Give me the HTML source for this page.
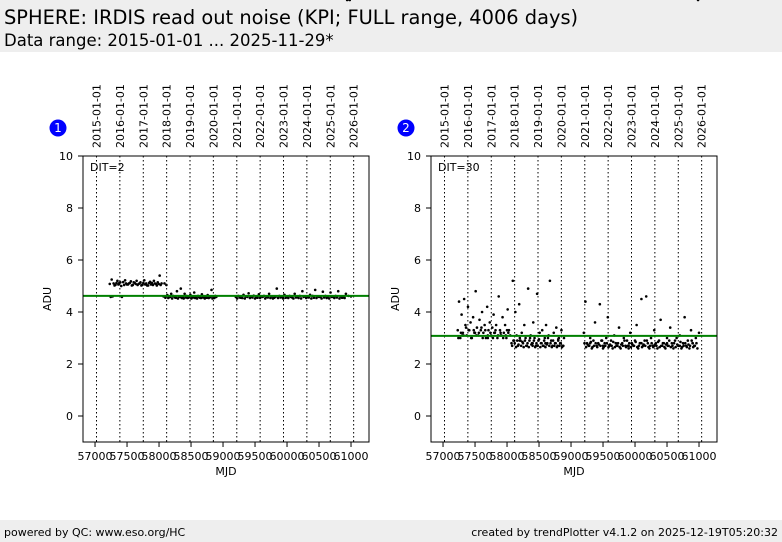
<!DOCTYPE html>
<html><head><meta charset="utf-8">
<style>
body{margin:0;width:782px;height:542px;overflow:hidden;background:#fff;font-family:"DejaVu Sans","Liberation Sans",sans-serif}
#hdr{position:absolute;left:0;top:0;width:782px;height:52px;background:#eeeeee}
#t1{position:absolute;left:4px;top:6px;font-size:19.4px;color:#000}
#t2{position:absolute;left:4px;top:31px;font-size:16.5px;color:#000}
#ftr{position:absolute;left:0;top:520px;width:782px;height:22px;background:#eeeeee;font-size:11px}
#fl{position:absolute;left:4px;top:6px}
#fr{position:absolute;right:4px;top:6px}
svg{position:absolute;left:0;top:0;font-family:"DejaVu Sans","Liberation Sans",sans-serif}
</style></head><body>
<div id="hdr">
<div id="t1">SPHERE: IRDIS read out noise (KPI; FULL range, 4006 days)</div>
<div id="t2">Data range: 2015-01-01 ... 2025-11-29*</div>
</div>
<svg id="chart" width="782" height="542"></svg>
<div id="ftr">
<span id="fl">powered by QC: www.eso.org/HC</span>
<span id="fr">created by trendPlotter v4.1.2 on 2025-12-19T05:20:32</span>
</div>
<script>
const xTicks=[57000,57500,58000,58500,59000,59500,60000,60500,61000];
const yTicks=[0,2,4,6,8,10];
const dateLabels=["2015-01-01","2016-01-01","2017-01-01","2018-01-01","2019-01-01","2020-01-01","2021-01-01","2022-01-01","2023-01-01","2024-01-01","2025-01-01","2026-01-01"];
const dateMjd=[57023,57388,57754,58119,58484,58849,59215,59580,59945,60310,60676,61041];
const refLine1=4.62;
const refLine2=3.08;
const mjd1=[57230,57260,57290,57320,57350,57380,57410,57440,57470,57500,57530,57560,57590,57620,57650,57680,57710,57740,57770,57800,57830,57860,57890,57920,57950,57980,58010,58040,57420,
58070,58100,58130,58160,58190,58220,58250,58280,58310,58340,58370,58400,58430,58460,58490,58520,58550,58580,58610,58640,58670,58700,58730,58760,58790,58820,58850,58880,
59200,59240,59280,59320,59360,59400,59440,59480,59520,59560,59600,59640,59680,59720,59760,59800,59840,59880,59920,59960,60000,60040,60080,60120,60160,60200,60240,60280,60320,60360,60400,60440,60480,60520,60560,60600,60640,60680,60720,60760,60800,60840,60880,60920,60960,61000,
57245,57275,57305,57335,57365,57395,57455,57485,57515,57545,57575,57605,57635,57665,57695,57725,57755,57785,57815,57845,57875,57905,57935,57965,57995,58025,
58085,58115,58145,58175,58205,58235,58265,58295,58325,58355,58385,58415,58445,58475,58505,58535,58565,58595,58625,58655,58685,58715,58745,58775,58805,58835,58865,58895,
59220,59260,59300,59340,59380,59420,59460,59500,59540,59580,59620,59660,59700,59740,59780,59820,59860,59900,59940,59980,60020,60060,60100,60140,60180,60220,60260,60300,60340,60380,60420,60460,60500,60540,60580,60620,60660,60700,60740,60780,60820,60860,60900,60940,60980];
const val1=[5.08,5.25,5.1,5.05,5.2,5.12,5.0,5.15,5.22,5.06,5.1,5.18,5.04,5.12,5.2,5.08,5.14,5.05,5.22,5.1,5.02,5.16,5.12,5.2,5.08,5.14,5.4,5.1,4.58,
4.6,4.55,4.65,4.58,4.7,4.62,4.56,4.8,4.6,4.9,4.58,4.7,4.62,4.55,4.66,4.6,4.75,4.58,4.62,4.55,4.68,4.6,4.58,4.65,4.56,4.85,4.6,4.62,
4.58,4.62,4.55,4.66,4.6,4.72,4.58,4.63,4.56,4.68,4.6,4.62,4.58,4.7,4.6,4.55,4.9,4.62,4.58,4.66,4.6,4.62,4.56,4.7,4.58,4.62,4.8,4.6,4.58,4.66,4.62,4.85,4.6,4.58,4.78,4.62,4.6,4.75,4.58,4.62,4.8,4.6,4.56,4.7,4.62,4.6,4.58,4.6,
5.02,5.12,5.06,5.14,5.04,5.1,5.06,5.12,5.02,5.14,5.08,5.04,5.1,5.02,5.12,5.06,5.02,5.12,5.06,5.04,5.1,5.02,5.08,5.04,5.1,5.04,
4.54,4.58,4.52,4.6,4.55,4.52,4.58,4.54,4.52,4.56,4.54,4.58,4.52,4.56,4.54,4.52,4.58,4.54,4.56,4.52,4.55,4.54,4.58,4.52,
4.54,4.58,4.52,4.56,4.54,4.52,4.58,4.54,4.56,4.52,4.55,4.54,4.58,4.52,4.56,4.54,4.52,4.58,4.54,4.56,4.52,4.55,4.54,4.58,4.52,4.56,4.54,4.52,4.58,4.54,4.56,4.52,4.55,4.54,4.58,4.52,4.56,4.54,4.52,4.58,4.54,4.56,4.52,4.55,4.54];
const mjd2=[57230,57250,57270,57290,57310,57330,57350,57370,57390,57410,57430,57450,57470,57490,57510,57530,57550,57570,57590,57610,57630,57650,57670,57690,57710,57730,57750,57770,57790,57810,57830,57850,57870,57890,57910,57930,57950,57970,57990,58010,58030,58050,
58070,58090,58110,58130,58150,58170,58190,58210,58230,58250,58270,58290,58310,58330,58350,58370,58390,58410,58430,58450,58470,58490,58510,58530,58550,58570,58590,58610,58630,58650,58670,58690,58710,58730,58750,58770,58790,58810,58830,58850,58870,58890,
59200,59225,59250,59275,59300,59325,59350,59375,59400,59425,59450,59475,59500,59525,59550,59575,59600,59625,59650,59675,59700,59725,59750,59775,59800,59825,59850,59875,59900,59925,59950,59975,60000,60025,60050,60075,60100,60125,60150,60175,60200,60225,60250,60275,60300,60325,60350,60375,60400,60425,60450,60475,60500,60525,60550,60575,60600,60625,60650,60675,60700,60725,60750,60775,60800,60825,60850,60875,60900,60925,60950,60975,61000,
57300,57400,57500,57600,57700,57800,57900,58000,58200,58400,58600,58800,59300,59500,59700,59900,60100,60300,60500,60700,60900,
57240,57280,57320,57360,57440,57480,57520,57560,57620,57660,57700,57740,57780,57820,57860,57900,57940,57980,58020,
58080,58100,58120,58140,58160,58180,58200,58220,58240,58260,58280,58300,58320,58340,58360,58380,58400,58420,58440,58460,58480,58500,58520,58540,58560,58580,58600,58620,58640,58660,58680,58700,58720,58740,58760,58780,58800,58820,58840,58860,58880,
59210,59235,59260,59285,59310,59335,59360,59385,59410,59435,59460,59485,59510,59535,59560,59585,59610,59635,59660,59685,59710,59735,59760,59785,59810,59835,59860,59885,59910,59935,59960,59985,60010,60035,60060,60085,60110,60135,60160,60185,60210,60235,60260,60285,60310,60335,60360,60385,60410,60435,60460,60485,60510,60535,60560,60585,60610,60635,60660,60685,60710,60735,60760,60785,60810,60835,60860,60885,60910,60935,60960,60985];
const val2=[3.3,4.4,3.0,3.9,3.2,4.5,3.5,3.1,4.2,3.3,3.6,3.0,3.8,3.2,4.8,3.4,3.1,3.7,3.3,4.0,3.2,3.5,3.0,4.2,3.3,3.6,3.1,3.4,3.9,3.2,3.5,3.0,4.6,3.3,3.1,3.8,3.2,3.5,3.0,4.1,3.3,3.1,
2.8,5.2,2.9,4.0,3.1,2.7,4.3,2.9,3.2,2.8,3.5,3.0,2.7,4.9,2.9,3.1,2.8,3.6,3.0,2.7,4.7,2.9,3.2,2.8,3.3,2.7,3.0,3.5,2.8,3.1,5.2,2.9,2.7,3.2,2.8,3.4,2.7,3.0,2.8,3.3,2.7,3.0,
3.2,4.4,2.8,2.7,3.0,2.6,2.9,3.6,2.7,2.8,4.3,2.9,2.6,2.8,3.0,3.8,2.7,2.9,2.6,3.1,2.8,2.7,3.4,2.6,2.8,3.0,2.7,2.9,2.6,3.2,2.8,2.7,2.9,3.5,2.6,2.8,4.5,2.7,2.9,4.6,2.8,2.6,3.0,2.7,3.3,2.8,2.6,2.9,3.7,2.7,2.8,2.6,3.0,2.7,3.4,2.8,2.6,2.9,3.0,2.7,3.1,2.6,2.8,3.8,2.7,2.9,2.6,3.3,2.8,2.7,3.0,2.6,3.2,
3.1,3.3,3.2,3.4,3.0,3.2,3.1,3.3,2.9,2.8,2.8,2.9,2.8,2.7,2.8,2.7,2.8,2.7,2.8,2.7,2.8,
3.0,3.2,3.1,3.4,3.0,3.3,3.1,3.2,3.0,3.3,3.1,3.2,3.0,3.3,3.1,3.2,3.0,3.1,3.2,
2.7,2.9,2.8,2.65,2.9,2.75,3.0,2.7,2.85,2.65,2.9,2.7,2.8,2.65,3.0,2.75,2.7,2.9,2.65,2.8,2.7,2.95,2.65,2.8,2.7,2.9,2.65,2.75,3.0,2.7,2.8,2.65,2.9,2.7,2.8,2.65,2.95,2.7,2.8,2.65,
2.7,2.8,2.65,2.75,2.7,2.85,2.65,2.7,2.8,2.65,2.75,2.7,2.9,2.65,2.7,2.8,2.65,2.75,2.7,2.85,2.65,2.7,2.8,2.65,2.75,2.7,2.9,2.65,2.7,2.8,2.65,2.75,2.7,2.85,2.65,2.7,2.8,2.65,2.75,2.7,2.9,2.65,2.7,2.8,2.65,2.75,2.7,2.85,2.65,2.7,2.8,2.65,2.75,2.7,2.9,2.65,2.7,2.8,2.65,2.75,2.7,2.85,2.65,2.7,2.8,2.65,2.75,2.7,2.9,2.65,2.7,2.8];
const NS="http://www.w3.org/2000/svg";
const svg=document.getElementById('chart');
function mk(tag,attrs,parent){const e=document.createElementNS(NS,tag);for(const k in attrs)e.setAttribute(k,attrs[k]);(parent||svg).appendChild(e);return e;}
const X0=56812,X1=61281,Y0=-1,Y1=10;
function drawPanel(px,mjds,vals,ref,dit,badge,idx){
  const L=px,R=px+286,T=156,B=442;
  const xs=m=>L+(m-X0)/(X1-X0)*(R-L);
  const ys=v=>B-(v-Y0)/(Y1-Y0)*(B-T);
  const g=mk('g',{});
  
  
  dateMjd.forEach((m,i)=>{
    const x=xs(m);
    const ln=mk('line',{x1:x,x2:x,y1:T,y2:B,stroke:'#000','stroke-width':1,'stroke-dasharray':'1.5,2.5'},g);
    
    
    const t=mk('text',{x:0,y:0,transform:`translate(${x+4},148) rotate(-90)`,'font-size':11,fill:'#000'},g);
    t.textContent=dateLabels[i];
    
    
  });
  mjds.forEach((m,i)=>{
    const c=mk('circle',{cx:xs(m),cy:ys(vals[i]),r:1.3,fill:'#000'},g);
    
    
  });
  const rl=mk('line',{x1:L,x2:R,y1:ys(ref),y2:ys(ref),stroke:'#008000','stroke-width':2},g);
  
  
  const box=mk('rect',{x:L,y:T,width:R-L,height:B-T,fill:'none',stroke:'#000','stroke-width':1},g);
  
  
  yTicks.forEach(v=>{
    const y=ys(v);
    mk('line',{x1:L-5,x2:L,y1:y,y2:y,stroke:'#000'},g);
    const t=mk('text',{x:L-10,y:y+4,'font-size':11,'text-anchor':'end'},g);
    t.textContent=v;
    
    
  });
  xTicks.forEach(v=>{
    const x=xs(v);
    mk('line',{x1:x,x2:x,y1:B,y2:B+5,stroke:'#000'},g);
    const t=mk('text',{x:x,y:B+18,'font-size':11,'text-anchor':'middle'},g);
    t.textContent=v;
    
    
  });
  const xt=mk('text',{x:(L+R)/2,y:B+33,'font-size':11,'text-anchor':'middle'},g);
  xt.textContent='MJD';
  
  
  const yt=mk('text',{x:0,y:0,transform:`translate(${L-32},${(T+B)/2}) rotate(-90)`,'font-size':11,'text-anchor':'middle'},g);
  yt.textContent='ADU';
  
  
  const dt=mk('text',{x:L+7,y:T+15,'font-size':11},g);
  dt.textContent='DIT='+dit;
  
  
  const bc=mk('circle',{cx:badge,cy:128,r:8.5,fill:'#0000ff'},g);
  
  
  const bt=mk('text',{x:badge,y:132,'font-size':12,'text-anchor':'middle',fill:'#fff'},g);
  bt.textContent=idx;
  
  
}
drawPanel(83,mjd1,val1,refLine1,2,58,1);
drawPanel(431,mjd2,val2,refLine2,30,406,2);
</script>
</body></html>
